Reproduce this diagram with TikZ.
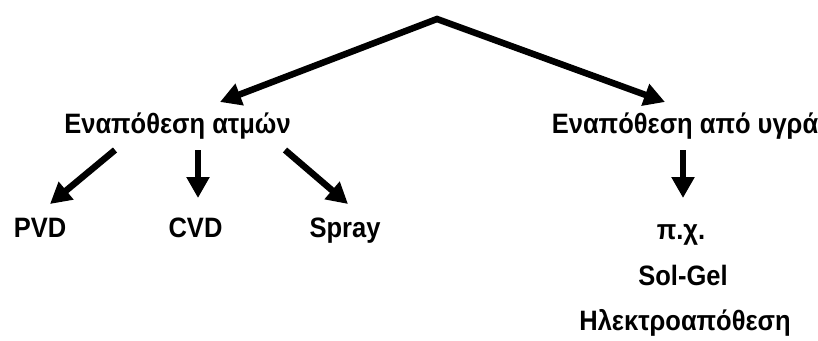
\documentclass[tikz,border=0pt]{standalone}
\usepackage{fontspec}
\usepackage{graphicx}
\setmainfont{Liberation Sans}
\usetikzlibrary{arrows.meta}
\newcommand{\tallt}[1]{\scalebox{1}[1.1]{#1}}
\begin{document}
\begin{tikzpicture}[x=1pt,y=-1pt,
  lbl/.style={inner sep=0pt,anchor=base,font=\fontsize{25.5}{30}\selectfont\bfseries},
  arr/.style={line width=6.5pt,-{Triangle[length=21pt,width=22pt]}},
  arrtwo/.style={line width=6.5pt,line join=miter,{Triangle[length=21pt,width=22pt]}-{Triangle[length=21pt,width=22pt]}}]
\useasboundingbox (0,0) rectangle (818,340);
\node[lbl] (atm) at (177.5,133) {\tallt{Εναπόθεση ατμών}};
\node[lbl] (ygr) at (685,133) {\tallt{Εναπόθεση από υγρά}};
\node[lbl] (pvd) at (40,237) {\tallt{PVD}};
\node[lbl] (cvd) at (195.5,237) {\tallt{CVD}};
\node[lbl] (spray) at (345,237) {\tallt{Spray}};
\node[lbl] (px) at (681,239) {\tallt{π.χ.}};
\node[lbl] (sol) at (683,285) {\tallt{Sol-Gel}};
\node[lbl] (ilek) at (685,330) {\tallt{Ηλεκτροαπόθεση}};
\coordinate (top) at (437,19);
\coordinate (atip) at (220,102);
\coordinate (ytip) at (665,102);
\draw[arrtwo] (atip) -- (top) -- (ytip);
\draw[arr] (115,150) -- (50,204);
\draw[arr] (198,150) -- (198,198);
\draw[arr] (285,150) -- (348,204);
\draw[arr] (683,150) -- (683,198);
\end{tikzpicture}
\end{document}
